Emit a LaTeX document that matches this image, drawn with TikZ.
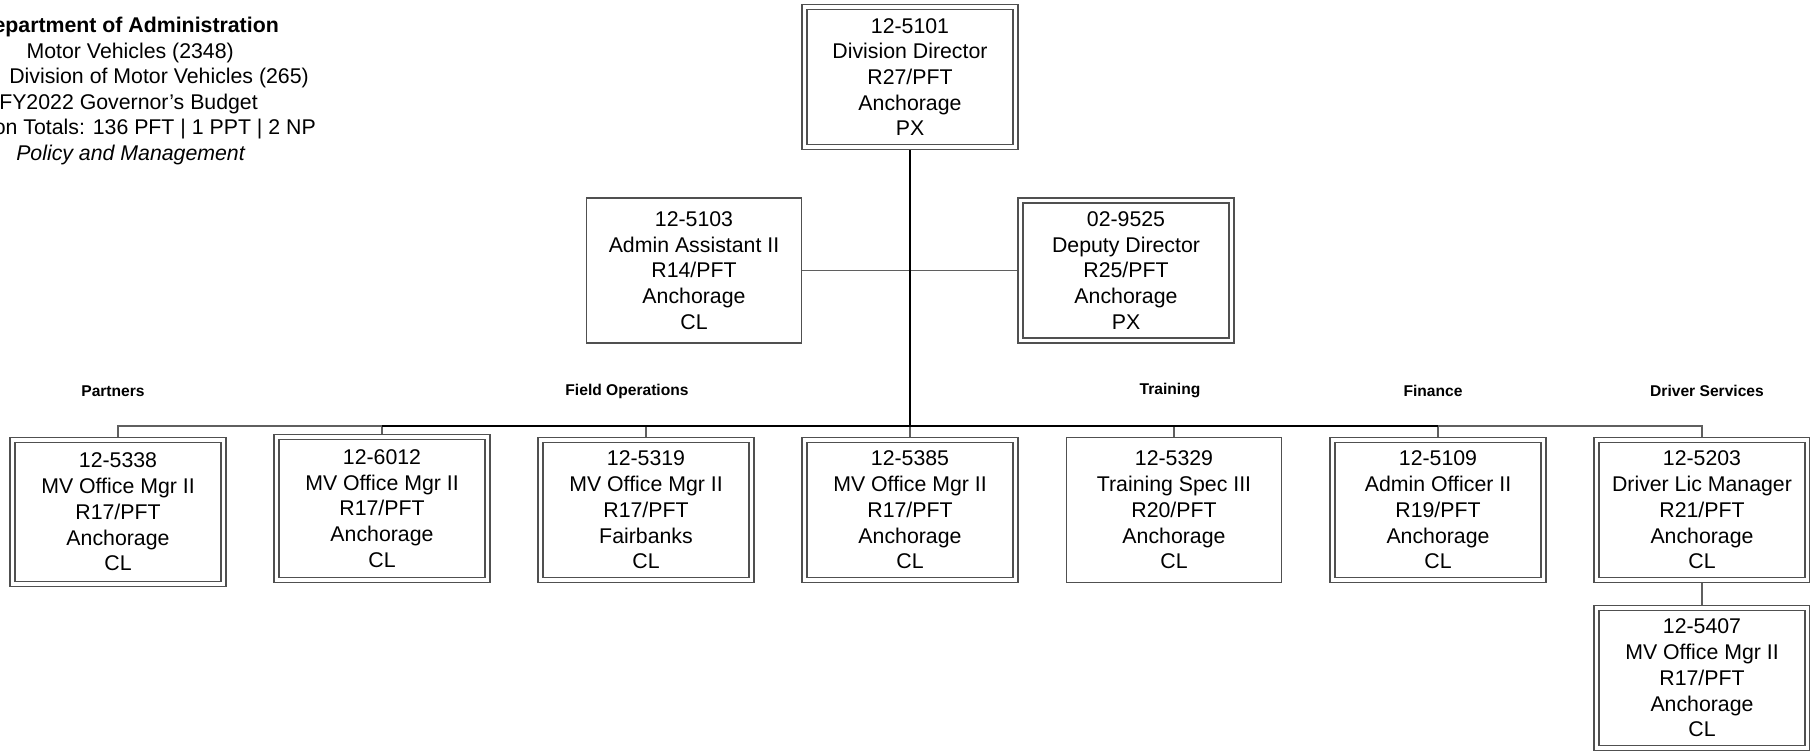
\documentclass[tikz,border=0pt]{standalone}
\usepackage{fontspec}
\setmainfont{Liberation Sans}
\definecolor{linegray}{HTML}{5F5F5F}
\definecolor{boxgray}{HTML}{505050}
\newcommand\boxfont{\fontsize{21.3}{25.7}\selectfont}
\newcommand\grpfont{\fontsize{15.6}{18}\selectfont\bfseries}
\newcommand\ttlfont{\fontsize{21.3}{25.5}\selectfont}
\begin{document}
\begin{tikzpicture}[x=1pt,y=-1pt,
  conn/.style={draw=linegray, line width=1.4pt},
  mainline/.style={draw=black, line width=2.6pt},
  box/.style={draw=boxgray, line width=1.3pt, fill=white, minimum width=215pt, minimum height=145pt, inner sep=0pt, align=center, font=\boxfont},
  dbox/.style={box, double=white, double distance=3.7pt, minimum width=211pt, minimum height=140pt, outer sep=3.2pt},
  grp/.style={font=\grpfont, inner sep=0pt},
  ttl/.style={anchor=base east, inner sep=0pt, font=\ttlfont}]
\fill[white] (0,0) rectangle (1810,751);
\useasboundingbox (0,0) rectangle (1810,751);

% title block
\node[ttl] (t1) at (279,33) {\bfseries epartment of Administration};
\node[ttl] (t2) at (234,58.5) {Motor Vehicles (2348)};
\node[ttl] (t3) at (309,84) {: Division of Motor Vehicles (265)};
\node[ttl] (t4) at (258,109.5) {FY2022 Governor’s Budget};
\node[ttl] (t5) at (316,135) {on Totals: 136 PFT | 1 PPT | 2 NP};
\node[ttl] (t6) at (245,160.5) {\itshape Policy and Management};

% group labels
\node[grp] (lpart) at (113,391) {Partners};
\node[grp] (lfield) at (627,391) {Field Operations};
\node[grp] (ltrain) at (1170,391) {Training};
\node[grp] (lfin) at (1433,391) {Finance};
\node[grp] (ldrv) at (1707,391) {Driver Services};

\coordinate (bus) at (910,426);

% top level
\node[dbox] (d5101) at (910,77) {12-5101\\Division Director\\R27/PFT\\Anchorage\\PX};
\node[box] (a5103) at (694,270.5) {12-5103\\Admin Assistant II\\R14/PFT\\Anchorage\\CL};
\node[dbox] (d9525) at (1126,270.5) {02-9525\\Deputy Director\\R25/PFT\\Anchorage\\PX};

% bottom row
\node[dbox, minimum height=144pt] (b5338) at (118,512) {12-5338\\MV Office Mgr II\\R17/PFT\\Anchorage\\CL};
\node[dbox, minimum height=143pt] (b6012) at (382,508.5) {12-6012\\MV Office Mgr II\\R17/PFT\\Anchorage\\CL};
\node[dbox] (b5319) at (646,510) {12-5319\\MV Office Mgr II\\R17/PFT\\Fairbanks\\CL};
\node[dbox] (b5385) at (910,510) {12-5385\\MV Office Mgr II\\R17/PFT\\Anchorage\\CL};
\node[box]  (b5329) at (1174,510) {12-5329\\Training Spec III\\R20/PFT\\Anchorage\\CL};
\node[dbox] (b5109) at (1438,510) {12-5109\\Admin Officer II\\R19/PFT\\Anchorage\\CL};
\node[dbox] (b5203) at (1702,510) {12-5203\\Driver Lic Manager\\R21/PFT\\Anchorage\\CL};
\node[dbox] (b5407) at (1702,678) {12-5407\\MV Office Mgr II\\R17/PFT\\Anchorage\\CL};

% connectors
\draw[conn] (a5103.east) -- (d9525.west);
\draw[conn] (b5338.north) |- (bus);
\draw[conn] (b5203.north) |- (bus);
\draw[conn] (b6012.north) -- (b6012.north |- bus);
\draw[conn] (b5319.north) -- (b5319.north |- bus);
\draw[conn] (b5385.north) -- (bus);
\draw[conn] (b5329.north) -- (b5329.north |- bus);
\draw[conn] (b5109.north) -- (b5109.north |- bus);
\draw[conn] (b5203.south) -- (b5407.north);
\draw[mainline] (b6012.north |- bus) -- (b5109.north |- bus);
\draw[mainline] (d5101.south) -- (bus);
\end{tikzpicture}
\end{document}
